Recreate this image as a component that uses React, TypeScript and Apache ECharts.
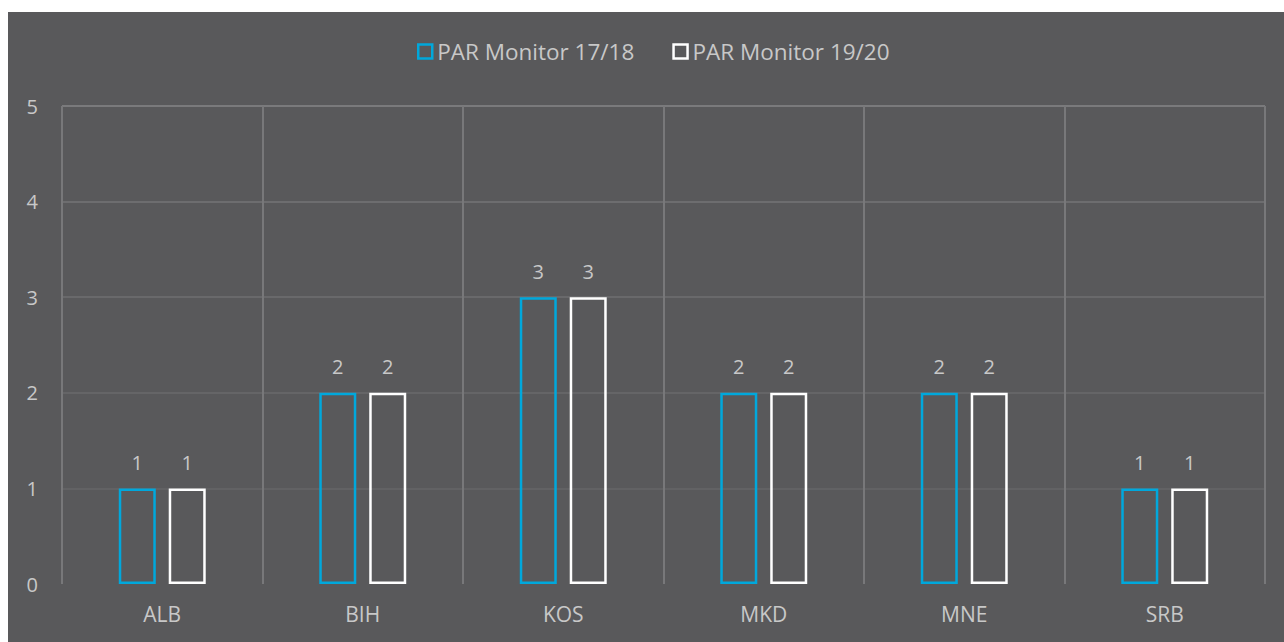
import React, { useEffect, useRef } from "react";
import * as echarts from "echarts";

const categories = ["ALB", "BIH", "KOS", "MKD", "MNE", "SRB"];
const seriesNames = ["PAR Monitor 17/18", "PAR Monitor 19/20"];
const values1718 = [1, 2, 3, 2, 2, 1];
const values1920 = [1, 2, 3, 2, 2, 1];
const yTicks = [0, 1, 2, 3, 4, 5];

const BG = "#59595b";
const TEXT = "#c8c8c8";
const BLUE = "#00a8dc";
const WHITE = "#ffffff";
const FONT = "'Open Sans', 'Noto Sans', sans-serif";

export default function App() {
  const ref = useRef<HTMLDivElement>(null);
  useEffect(() => {
    if (!ref.current) return;
    const chart = echarts.init(ref.current, null, { renderer: "svg" });
    const mkSeries = (name: string, data: number[], color: string) => ({
      name,
      type: "bar",
      data,
      barWidth: 37,
      barGap: "35%",
      itemStyle: { color: "transparent", borderColor: color, borderWidth: 2.5 },
      label: {
        show: true,
        position: "top",
        distance: 16,
        color: TEXT,
        fontSize: 20,
        fontFamily: FONT,
      },
    });
    chart.setOption({
      animation: false,
      backgroundColor: BG,
      textStyle: { fontFamily: FONT },
      legend: {
        top: 23,
        left: 404,
        itemWidth: 14,
        itemHeight: 14,
        itemGap: 38,
        textStyle: { color: TEXT, fontSize: 22.5, fontFamily: FONT },
        data: [
          { name: seriesNames[0], icon: "rect", itemStyle: { color: "transparent", borderColor: BLUE, borderWidth: 2.5 } },
          { name: seriesNames[1], icon: "rect", itemStyle: { color: "transparent", borderColor: WHITE, borderWidth: 2.5 } },
        ],
      },
      grid: { left: 54, right: 19, top: 94, bottom: 58, containLabel: false },
      xAxis: {
        type: "category",
        data: categories,
        axisLine: { show: false },
        axisTick: { show: false },
        axisLabel: { color: TEXT, fontSize: 21, fontFamily: FONT, margin: 19 },
        splitLine: { show: true, interval: 0, lineStyle: { color: "#78787a", width: 2 } },
      },
      yAxis: {
        type: "value",
        min: yTicks[0],
        max: yTicks[yTicks.length - 1],
        interval: 1,
        axisLine: { show: false },
        axisTick: { show: false },
        axisLabel: { color: TEXT, fontSize: 20, fontFamily: FONT, margin: 24 },
        splitLine: {
          show: true,
          lineStyle: {
            color: ["rgba(0,0,0,0)", "#626264", "#656567", "#69696b", "#6d6d6f", "#7a7a7c"],
            width: 2,
          },
        },
      },
      series: [
        mkSeries(seriesNames[0], values1718, BLUE),
        mkSeries(seriesNames[1], values1920, WHITE),
      ],
    });
    return () => chart.dispose();
  }, []);
  return (
    <div
      ref={ref}
      style={{ position: "absolute", left: 8, top: 12, width: 1276, height: 630 }}
    />
  );
}
